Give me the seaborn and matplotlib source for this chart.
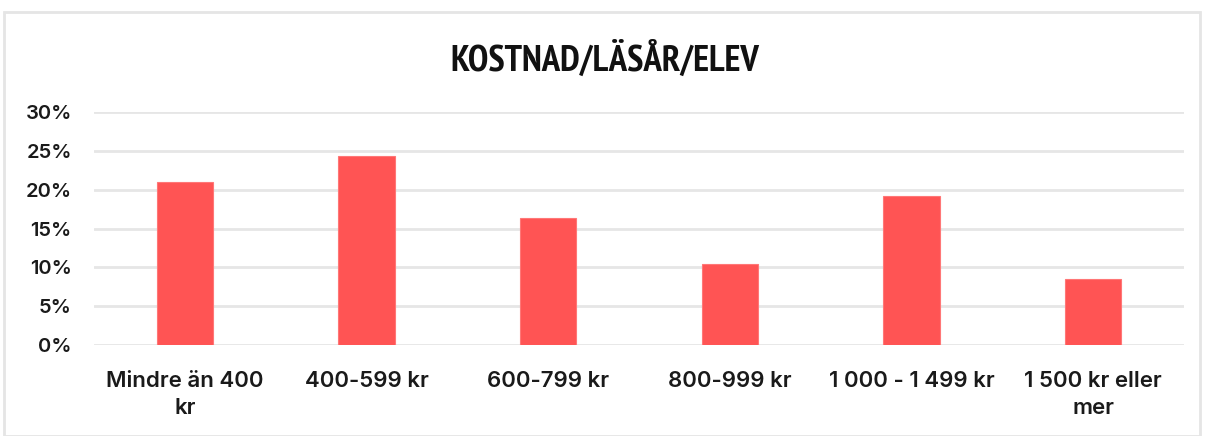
import matplotlib
matplotlib.use("Agg")
import matplotlib.pyplot as plt
import seaborn as sns
import pandas as pd
from matplotlib.patches import Rectangle
from matplotlib.ticker import FuncFormatter
from matplotlib import font_manager as fm

categories = ["Mindre än 400\nkr", "400-599 kr", "600-799 kr", "800-999 kr",
              "1 000 - 1 499 kr", "1 500 kr eller\nmer"]
values = [21.0, 24.4, 16.4, 10.5, 19.2, 8.5]
yticks = [0, 5, 10, 15, 20, 25, 30]
title = "KOSTNAD/LÄSÅR/ELEV"

df = pd.DataFrame({"cat": categories, "val": values})

sns.set_theme(style="white")
plt.rcParams['font.family'] = ['Inter', 'DejaVu Sans']

# find a condensed bold font for the title
title_fp = None
cands = []
for f in fm.fontManager.ttflist:
    p = f.fname.lower()
    if ("narrow" in p or "condensed" in p) and ("bold" in p) and ("italic" not in p and "oblique" not in p):
        cands.append(f.fname)
cands.sort(key=lambda s: (0 if "narrow" in s.lower() else 1, s))
if cands:
    title_fp = fm.FontProperties(fname=cands[0], size=26.5)
else:
    title_fp = fm.FontProperties(family="DejaVu Sans", weight="bold", size=24)

fig = plt.figure(figsize=(12.09, 4.36), dpi=100)
ax = fig.add_axes([94/1209, 1-345/436, (1184-94)/1209, (345-112.3)/436])

sns.barplot(data=df, x="cat", y="val", color="#ff5454", width=0.31,
            saturation=1, ax=ax, zorder=3, edgecolor="#ff7777", linewidth=0.8)

ax.set_ylim(0, 30)
ax.set_yticks(yticks)
ax.yaxis.set_major_formatter(FuncFormatter(lambda v, p: f"{int(v)}%"))
ax.grid(axis="y", color="#e6e6e6", linewidth=2, zorder=0)
ax.set_axisbelow(True)
for s in ax.spines.values():
    s.set_visible(False)
ax.set_xlabel("")
ax.set_ylabel("")
ax.tick_params(axis="y", length=0, pad=16, labelsize=14.5, labelcolor="#1a1a1a")
ax.tick_params(axis="x", length=0, pad=19, labelsize=16, labelcolor="#1a1a1a")
for lab in ax.get_xticklabels() + ax.get_yticklabels():
    lab.set_fontweight(600)
for lab in ax.get_xticklabels():
    lab.set_linespacing(1.42)
    lab.set_horizontalalignment("center")
    lab.set_multialignment("center")

fig.text(0.5, 1-59/436, title, ha="center", va="center",
         fontproperties=title_fp, color="#111111")

# frame border
fig.patches.append(Rectangle((4/1209, 0), (1200-4)/1209, 1-12/436,
                             transform=fig.transFigure, fill=False,
                             edgecolor="#e5e5e5", linewidth=2))

fig.savefig("out.png", dpi=100, facecolor="white")
